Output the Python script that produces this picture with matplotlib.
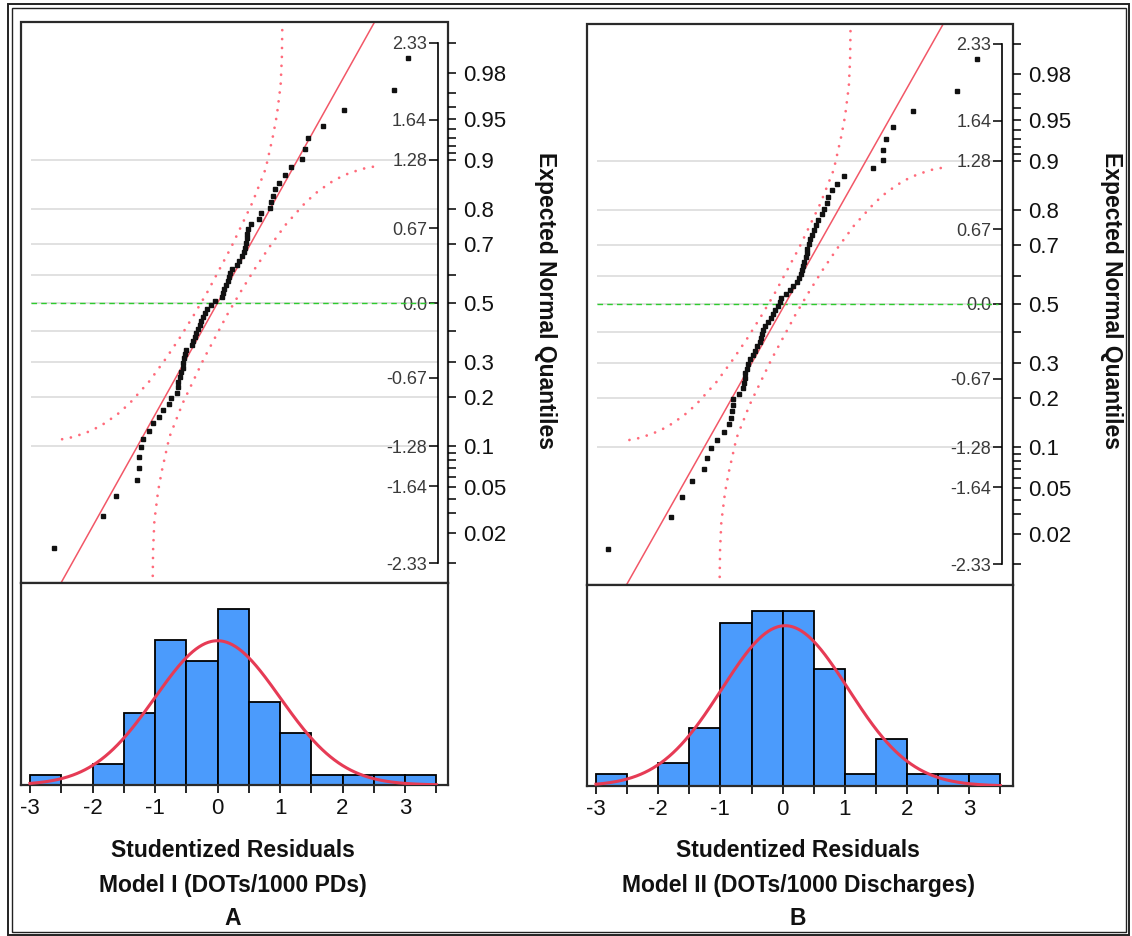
import matplotlib
matplotlib.use("Agg")
import matplotlib.pyplot as plt
from matplotlib.patches import Rectangle
import numpy as np
from statistics import NormalDist

plt.rcParams['font.family'] = ['Liberation Sans', 'DejaVu Sans']

W, H = 1132, 936

# studentized residuals, sorted
resid_a = [-2.61, -1.84, -1.62, -1.29, -1.26, -1.25, -1.22, -1.20, -1.09, -1.03,
           -0.93, -0.87, -0.77, -0.74, -0.65, -0.64, -0.63, -0.60, -0.58, -0.56,
           -0.55, -0.53, -0.52, -0.51, -0.41, -0.39, -0.36, -0.34, -0.31, -0.28,
           -0.26, -0.24, -0.20, -0.17, -0.10, -0.04, 0.07, 0.09, 0.11, 0.13,
           0.16, 0.19, 0.20, 0.23, 0.31, 0.34, 0.39, 0.42, 0.44, 0.45,
           0.47, 0.475, 0.49, 0.54, 0.66, 0.70, 0.84, 0.85, 0.89, 0.92,
           0.98, 1.08, 1.18, 1.35, 1.40, 1.45, 1.68, 2.03, 2.83, 3.05]
resid_b = [-2.80, -1.80, -1.61, -1.45, -1.26, -1.22, -1.15, -1.06, -0.94, -0.86,
           -0.83, -0.82, -0.80, -0.79, -0.70, -0.63, -0.62, -0.61, -0.60, -0.58,
           -0.55, -0.52, -0.48, -0.44, -0.41, -0.36, -0.35, -0.33, -0.31, -0.28,
           -0.23, -0.18, -0.15, -0.12, -0.07, -0.04, -0.02, 0.05, 0.12, 0.17,
           0.23, 0.27, 0.29, 0.31, 0.33, 0.35, 0.37, 0.39, 0.40, 0.42,
           0.44, 0.48, 0.51, 0.54, 0.57, 0.63, 0.67, 0.72, 0.73, 0.80,
           0.87, 0.98, 1.45, 1.61, 1.62, 1.67, 1.77, 2.09, 2.81, 3.12]

# fitted normal (mean, sd)
fit_a = (0.0, 1.0)
fit_b = (0.04, 1.015)

bin_edges = [-3.0, -2.5, -2.0, -1.5, -1.0, -0.5, 0.0, 0.5, 1.0, 1.5, 2.0, 2.5, 3.0, 3.5]
hist_labels = [-3, -2, -1, 0, 1, 2, 3]

# confidence band (lower/right branch) in standard units; the other branch is its mirror
band_z = [-1.04, -1.03, -1.01, -0.95, -0.89, -0.83, -0.77, -0.70, -0.56, -0.39, -0.22,
          -0.03, 0.16, 0.37, 0.59, 0.83, 1.09, 1.41, 1.61, 1.87, 2.10, 2.32, 2.50]
band_q = [-2.60, -2.20, -1.95, -1.68, -1.50, -1.35, -1.20, -1.10, -0.90, -0.70, -0.50,
          -0.30, -0.10, 0.10, 0.30, 0.50, 0.70, 0.90, 1.00, 1.10, 1.16, 1.20, 1.22]

quant_ticks = [-2.33, -1.64, -1.28, -0.67, 0.0, 0.67, 1.28, 1.64, 2.33]
quant_labels = ['-2.33', '-1.64', '-1.28', '-0.67', '0.0', '0.67', '1.28', '1.64', '2.33']
prob_major = [0.02, 0.05, 0.1, 0.2, 0.3, 0.5, 0.7, 0.8, 0.9, 0.95, 0.98]
prob_minor = [0.01, 0.03, 0.04, 0.06, 0.07, 0.08, 0.09, 0.4, 0.6,
              0.91, 0.92, 0.93, 0.94, 0.96, 0.97, 0.99]
grid_probs = [0.1, 0.2, 0.3, 0.4, 0.6, 0.7, 0.8, 0.9]

panels = [
    dict(resid=resid_a, fit=fit_a, qq=(20.5, 22, 448, 583), hist=(20.5, 583, 448, 785),
         zero_px=30, unit_px=62.5, xlab_x=233, ylab_x=545,
         model='Model I (DOTs/1000 PDs)', letter='A'),
    dict(resid=resid_b, fit=fit_b, qq=(587, 24, 1013, 585), hist=(587, 585, 1013, 786),
         zero_px=596, unit_px=62.2, xlab_x=798, ylab_x=1111,
         model='Model II (DOTs/1000 Discharges)', letter='B'),
]

nd = NormalDist()
BAR = '#4b9bfc'
CURVE = '#e63b55'
FIT = '#f25767'
BAND = '#ff6b7b'
TXT = '#111111'


def box(x0, y0, x1, y1):
    return [x0 / W, 1 - y1 / H, (x1 - x0) / W, (y1 - y0) / H]


def to_x(px, p):
    return (px - p['zero_px']) / p['unit_px'] - 3


fig = plt.figure(figsize=(W / 100, H / 100), dpi=100)

for p in panels:
    resid = np.array(p['resid'])
    n = len(resid)
    mu, sd = p['fit']
    xlim = (to_x(p['qq'][0], p), to_x(p['qq'][2], p))
    y0 = 303 if p['letter'] == 'A' else 304
    ylim = ((y0 - p['qq'][3]) / 111.8, (y0 - p['qq'][1]) / 111.8)
    inner_x = 3.52

    # ---- normal quantile plot ----
    ax = fig.add_axes(box(*p['qq']))
    ax.set_xlim(xlim)
    ax.set_ylim(ylim)
    for s in ['top', 'bottom', 'right']:
        ax.spines[s].set_visible(False)
    ax.spines['left'].set_position(('data', inner_x))
    ax.spines['left'].set_bounds(-2.33, 2.33)
    ax.spines['left'].set_linewidth(1.2)
    ax.set_xticks([])
    ax.set_yticks(quant_ticks)
    ax.set_yticklabels(quant_labels)
    ax.tick_params(axis='y', direction='out', length=6.5, width=1.1, pad=1,
                   labelsize=13, labelcolor='#3a3a3a')
    ax.add_patch(Rectangle((0, 0), 1, 1, transform=ax.transAxes, fill=False,
                           lw=1.6, ec='#2a2a2a', zorder=6, clip_on=False))

    gq = [nd.inv_cdf(g) for g in grid_probs]
    ax.hlines(gq, -2.98, inner_x, color='#d8d8d8', lw=1.1, zorder=1)
    ax.hlines([0.0], -2.98, inner_x, color='#d8d8d8', lw=1.1, zorder=1)
    ax.hlines([0.0], -2.98, inner_x - 0.05, color='#2ecc2e', lw=1.0,
              linestyles=(0, (4, 3)), zorder=2)

    bz = np.array(band_z)
    bq = np.array(band_q)
    dots = (0, (0.01, 3.2))
    ax.plot(mu + sd * bz, bq, color=BAND, lw=2.0, ls=dots,
            dash_capstyle='round', zorder=3)
    ax.plot(mu - sd * bz, -bq, color=BAND, lw=2.0, ls=dots,
            dash_capstyle='round', zorder=3)

    line_q = np.array([ylim[0] - 0.2, ylim[1] + 0.2])
    ax.plot(mu + sd * line_q, line_q, color=FIT, lw=1.1, zorder=4)

    expected = [nd.inv_cdf((i + 1) / (n + 1)) for i in range(n)]
    ax.plot(np.sort(resid), expected, ls='none', marker='s', ms=3.0,
            mfc='#111111', mec='#111111', zorder=5)

    # probability axis on the right edge
    ax2 = ax.twinx()
    ax2.set_ylim(ylim)
    for s in ax2.spines.values():
        s.set_visible(False)
    ax2.set_yticks([nd.inv_cdf(v) for v in prob_major])
    ax2.set_yticklabels([f'{v:g}' for v in prob_major])
    ax2.set_yticks([nd.inv_cdf(v) for v in prob_minor], minor=True)
    ax2.tick_params(axis='y', which='both', direction='out', length=6, width=1.1,
                    pad=5, labelsize=16, labelcolor=TXT)

    # ---- histogram ----
    hx = fig.add_axes(box(*p['hist']))
    counts, _ = np.histogram(resid, bins=bin_edges)
    hx.hist(resid, bins=bin_edges, color=BAR, edgecolor='black', linewidth=1.3, zorder=2)
    xs = np.linspace(bin_edges[0], bin_edges[-1], 400)
    fitted = NormalDist(mu, sd)
    bw = bin_edges[1] - bin_edges[0]
    hx.plot(xs, [n * bw * fitted.pdf(v) for v in xs], color=CURVE, lw=2.2, zorder=3)
    hx.set_xlim(xlim)
    hx.set_ylim(0, counts.max() * 1.15)
    hx.set_yticks([])
    hx.set_xticks(hist_labels)
    hx.set_xticklabels([str(v) for v in hist_labels])
    hx.set_xticks(bin_edges, minor=True)
    hx.tick_params(axis='x', which='both', direction='out', length=5.5, width=1.2,
                   pad=4, labelsize=16, labelcolor=TXT)
    for s in hx.spines.values():
        s.set_linewidth(1.6)
        s.set_color('#2a2a2a')

    # ---- labels ----
    fig.text(p['xlab_x'] / W, 1 - 857 / H, 'Studentized Residuals', ha='center',
             va='baseline', fontsize=16.5, fontweight='bold', color=TXT)
    fig.text(p['xlab_x'] / W, 1 - 892 / H, p['model'], ha='center',
             va='baseline', fontsize=16.5, fontweight='bold', color=TXT)
    fig.text(p['xlab_x'] / W, 1 - 925 / H, p['letter'], ha='center',
             va='baseline', fontsize=16.5, fontweight='bold', color=TXT)
    fig.text(p['ylab_x'] / W, 1 - 300 / H, 'Expected Normal Quantiles', rotation=270,
             ha='center', va='center', fontsize=16.5, fontweight='bold', color=TXT)

# double frame round the whole picture
for (x0, y0, x1, y1, lw) in [(8, 4, 1129, 935, 1.4), (11.5, 7.5, 1125.5, 931.5, 1.0)]:
    fig.add_artist(Rectangle((x0 / W, 1 - y1 / H), (x1 - x0) / W, (y1 - y0) / H,
                             transform=fig.transFigure, fill=False, lw=lw, ec='#222222'))

fig.savefig('out.png', dpi=100)
